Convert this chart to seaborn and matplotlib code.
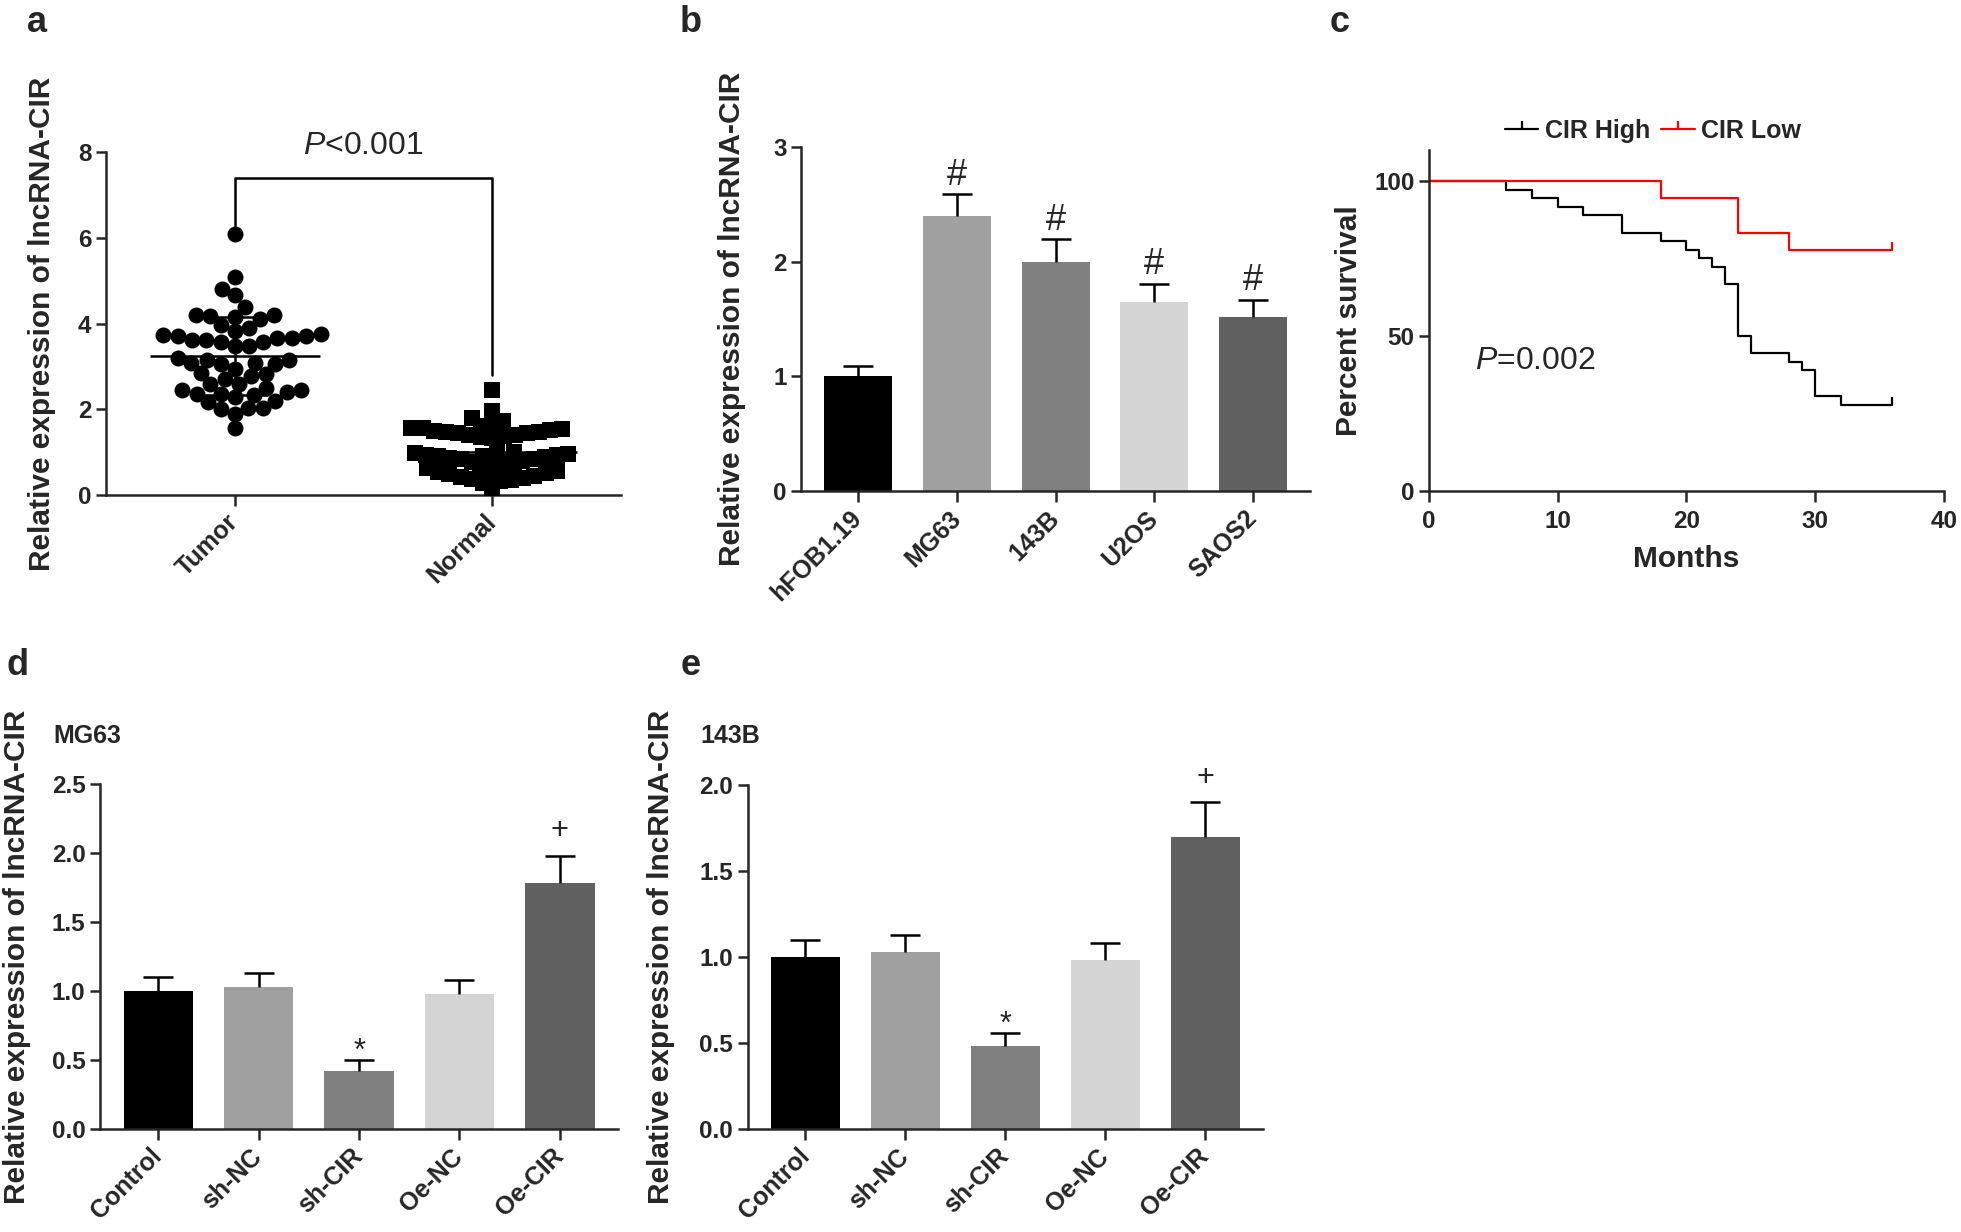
import numpy as np
import matplotlib
matplotlib.use("Agg")
import matplotlib.pyplot as plt
import seaborn as sns
from matplotlib.lines import Line2D
from matplotlib.markers import TICKUP

# ---- panel a: lncRNA-CIR in tissue
groups_a = ["Tumor", "Normal"]
tumor = [6.08, 5.09, 4.80, 4.66, 4.39, 4.20, 4.16, 4.10, 4.17, 4.20, 3.96,
         3.89, 3.75, 3.71, 3.67, 3.62, 3.57, 3.48, 3.47, 3.56, 3.62, 3.67, 3.71, 3.73, 3.83,
         3.16, 3.08, 3.08, 2.94, 2.82, 2.70, 2.77, 2.84, 3.06, 3.06, 3.16, 3.19,
         2.59, 2.49, 2.44, 2.36, 2.33, 2.20, 2.17, 2.28, 2.36, 2.40, 2.44, 2.59,
         2.04, 2.01, 1.90, 2.03, 1.57]
normal = [2.46, 1.96, 1.80, 1.72,
          1.62, 1.60, 1.56, 1.53, 1.50, 1.47, 1.44, 1.40, 1.37, 1.34, 1.36, 1.41, 1.45, 1.48, 1.52, 1.57,
          1.00, 0.97, 0.94, 0.91, 0.88, 0.85, 0.82, 0.78, 0.76, 0.79, 0.83, 0.86, 0.90, 0.93, 0.96, 1.00,
          0.62, 0.58, 0.55, 0.51, 0.47, 0.43, 0.38, 0.32, 0.27, 0.34, 0.40, 0.45, 0.49, 0.53, 0.57, 0.60,
          0.12]
p_text_a = "$P$<0.001"

# ---- panel b: cell lines
cells_b = ["hFOB1.19", "MG63", "143B", "U2OS", "SAOS2"]
expr_b = [1.00, 2.40, 2.00, 1.65, 1.52]
err_b = [0.09, 0.19, 0.20, 0.16, 0.15]
marks_b = ["", "#", "#", "#", "#"]

# ---- panel c: survival
high_months = [0, 6, 8, 10, 12, 15, 18, 20, 21, 22, 23, 24, 25, 28, 29, 30, 32, 36]
high_surv = [100, 97.2, 94.4, 91.7, 88.9, 83.3, 80.6, 77.8, 75.0, 72.2, 66.7,
             50.0, 44.4, 41.7, 38.9, 30.6, 27.8, 27.8]
low_months = [0, 18, 24, 28, 36]
low_surv = [100, 94.4, 83.3, 77.8, 77.8]
surv_names = ["CIR High", "CIR Low"]
p_text_c = "$P$=0.002"

# ---- panels d, e: knockdown / overexpression
treat = ["Control", "sh-NC", "sh-CIR", "Oe-NC", "Oe-CIR"]
expr_d = [1.00, 1.03, 0.42, 0.98, 1.78]
err_d = [0.10, 0.10, 0.08, 0.10, 0.20]
expr_e = [1.00, 1.03, 0.48, 0.98, 1.70]
err_e = [0.10, 0.10, 0.08, 0.10, 0.20]
marks_de = ["", "", "*", "", "+"]

greys = ["#000000", "#a0a0a0", "#808080", "#d4d4d4", "#616161"]
YLAB = "Relative expression of lncRNA-CIR"
LW = 1.8

sns.set_style("ticks")
plt.rcParams["font.family"] = ["Liberation Sans", "DejaVu Sans"]
plt.rcParams["font.weight"] = "bold"
plt.rcParams["axes.labelweight"] = "bold"
plt.rcParams["mathtext.fontset"] = "custom"
plt.rcParams["mathtext.it"] = "Liberation Sans:style=italic:weight=normal"
plt.rcParams["mathtext.rm"] = "Liberation Sans:weight=normal"

fig = plt.figure(figsize=(19.61, 12.32), dpi=100)
ax_a = fig.add_axes([0.0541, 0.5982, 0.2626, 0.2784])
ax_b = fig.add_axes([0.4085, 0.6015, 0.2596, 0.2788])
ax_c = fig.add_axes([0.7287, 0.6015, 0.2626, 0.2768])
ax_d = fig.add_axes([0.0510, 0.0836, 0.2642, 0.2800])
ax_e = fig.add_axes([0.3812, 0.0836, 0.2629, 0.2792])


def style_axis(ax, xrot=True):
    sns.despine(ax=ax)
    for s in ("left", "bottom"):
        ax.spines[s].set_linewidth(LW)
    ax.tick_params(axis="y", labelsize=17.5, width=LW, length=7, direction="out")
    ax.tick_params(axis="x", labelsize=18, width=LW, length=8, direction="out", pad=9)
    if xrot:
        plt.setp(ax.get_xticklabels(), rotation=45, ha="right", va="center",
                 rotation_mode="anchor")


mark_style = {"#": (26, 1), "*": (22, -5), "+": (22, 7)}


def bar_panel(ax, names, vals, errs, marks):
    sns.barplot(x=names, y=vals, hue=names, palette=greys, legend=False,
                width=0.69, saturation=1, linewidth=0, ax=ax)
    pos = np.arange(len(names))
    eb = ax.errorbar(pos, vals, yerr=[np.zeros(len(vals)), errs], fmt="none",
                     ecolor="black", elinewidth=LW, capsize=11, capthick=LW, zorder=3)
    eb[1][0].set_visible(False)
    for x, v, e, m in zip(pos, vals, errs, marks):
        if m:
            size, off = mark_style[m]
            ax.annotate(m, (x, v + e), xytext=(0, off), textcoords="offset points",
                        ha="center", va="bottom", fontsize=size, fontweight="normal")


# ---- a: swarm laid out with small markers, then drawn with larger, overlapping ones
swarms = []
for name, vals, mk, layout_size, draw_size in [("Tumor", tumor, "o", 10, 11.5),
                                                ("Normal", normal, "s", 8, 11)]:
    n0 = len(ax_a.collections)
    sns.swarmplot(x=[name] * len(vals), y=vals, order=groups_a, color="black",
                  marker=mk, size=layout_size, linewidth=0, warn_thresh=1, ax=ax_a)
    swarms.append((ax_a.collections[n0:], draw_size))
for i, vals in enumerate([tumor, normal]):
    m, s = np.mean(vals), np.std(vals, ddof=1)
    ax_a.hlines(m, i - 0.33, i + 0.33, color="black", lw=LW, zorder=5)
    ax_a.hlines([m - s, m + s], i - 0.13, i + 0.13, color="black", lw=LW, zorder=5)
    ax_a.vlines(i, m - s, m + s, color="black", lw=LW, zorder=5)
top = 7.4
ax_a.plot([0, 0, 1, 1], [max(tumor) + 0.2, top, top, max(normal) + 0.35],
          color="black", lw=LW)
ax_a.text(0.5, 8.15, p_text_a, ha="center", va="center", fontsize=23,
          fontweight="normal")
ax_a.set_xlim(-0.5, 1.5)
ax_a.set_ylim(0, 8)
ax_a.set_yticks([0, 2, 4, 6, 8])
ax_a.set_ylabel(YLAB, fontsize=21.5)
ax_a.yaxis.set_label_coords(-0.097, 0.5)
style_axis(ax_a)

# ---- b
bar_panel(ax_b, cells_b, expr_b, err_b, marks_b)
ax_b.set_ylim(0, 3)
ax_b.set_yticks([0, 1, 2, 3])
ax_b.set_ylabel(YLAB, fontsize=21.5)
ax_b.yaxis.set_label_coords(-0.108, 0.5)
style_axis(ax_b)

# ---- c
sns.lineplot(x=high_months, y=high_surv, drawstyle="steps-post", color="black",
             lw=1.6, ax=ax_c)
sns.lineplot(x=low_months, y=low_surv, drawstyle="steps-post", color="red",
             lw=1.6, ax=ax_c)
for mo, sv, col in [(high_months, high_surv, "black"), (low_months, low_surv, "red")]:
    ax_c.plot(mo[-1], sv[-1], marker=TICKUP, ms=6, mew=1.6, color=col)
handles = [Line2D([], [], color=c, lw=1.6, marker=TICKUP, ms=6, mew=1.6)
           for c in ("black", "red")]
ax_c.legend(handles, surv_names, loc="center", bbox_to_anchor=(0.435, 1.055),
            ncol=2, frameon=False, fontsize=18, handlelength=1.35,
            handletextpad=0.25, columnspacing=0.45, numpoints=1)
ax_c.text(3.6, 42, p_text_c, ha="left", va="center", fontsize=23, fontweight="normal")
ax_c.set_xlim(0, 40)
ax_c.set_ylim(0, 110)
ax_c.set_xticks([0, 10, 20, 30, 40])
ax_c.set_yticks([0, 50, 100])
ax_c.set_xlabel("Months", fontsize=21.5, labelpad=8)
ax_c.set_ylabel("Percent survival", fontsize=21.5)
ax_c.yaxis.set_label_coords(-0.128, 0.5)
style_axis(ax_c, xrot=False)
ax_c.tick_params(axis="x", labelsize=17.5, pad=6)

# ---- d, e
for ax, vals, errs, lab, title, lx in [
        (ax_d, expr_d, err_d, -0.133, "MG63", 0.027),
        (ax_e, expr_e, err_e, -0.141, "143B", 0.357)]:
    bar_panel(ax, treat, vals, errs, marks_de)
    ax.set_ylabel(YLAB, fontsize=21.5)
    ax.yaxis.set_label_coords(lab, 0.5)
    fig.text(lx, 0.4026, title, ha="left", va="center", fontsize=18)
ax_d.set_ylim(0, 2.5)
ax_d.set_yticks(np.arange(0, 2.51, 0.5))
ax_e.set_ylim(0, 2.0)
ax_e.set_yticks(np.arange(0, 2.01, 0.5))
ax_d.yaxis.set_major_formatter(matplotlib.ticker.FormatStrFormatter("%.1f"))
ax_e.yaxis.set_major_formatter(matplotlib.ticker.FormatStrFormatter("%.1f"))
style_axis(ax_d)
style_axis(ax_e)

for letter, x, y in [("a", 0.019, 0.982), ("b", 0.352, 0.982), ("c", 0.683, 0.982),
                     ("d", 0.009, 0.460), ("e", 0.352, 0.460)]:
    fig.text(x, y, letter, ha="center", va="center", fontsize=26, fontweight="bold")

# run seaborn's beeswarm layout once, then freeze it and enlarge the markers
fig.canvas.draw()
for colls, size in swarms:
    for coll in colls:
        if "draw" in coll.__dict__:
            del coll.draw
        coll.set_sizes([size ** 2])

fig.savefig("out.png", dpi=100)
